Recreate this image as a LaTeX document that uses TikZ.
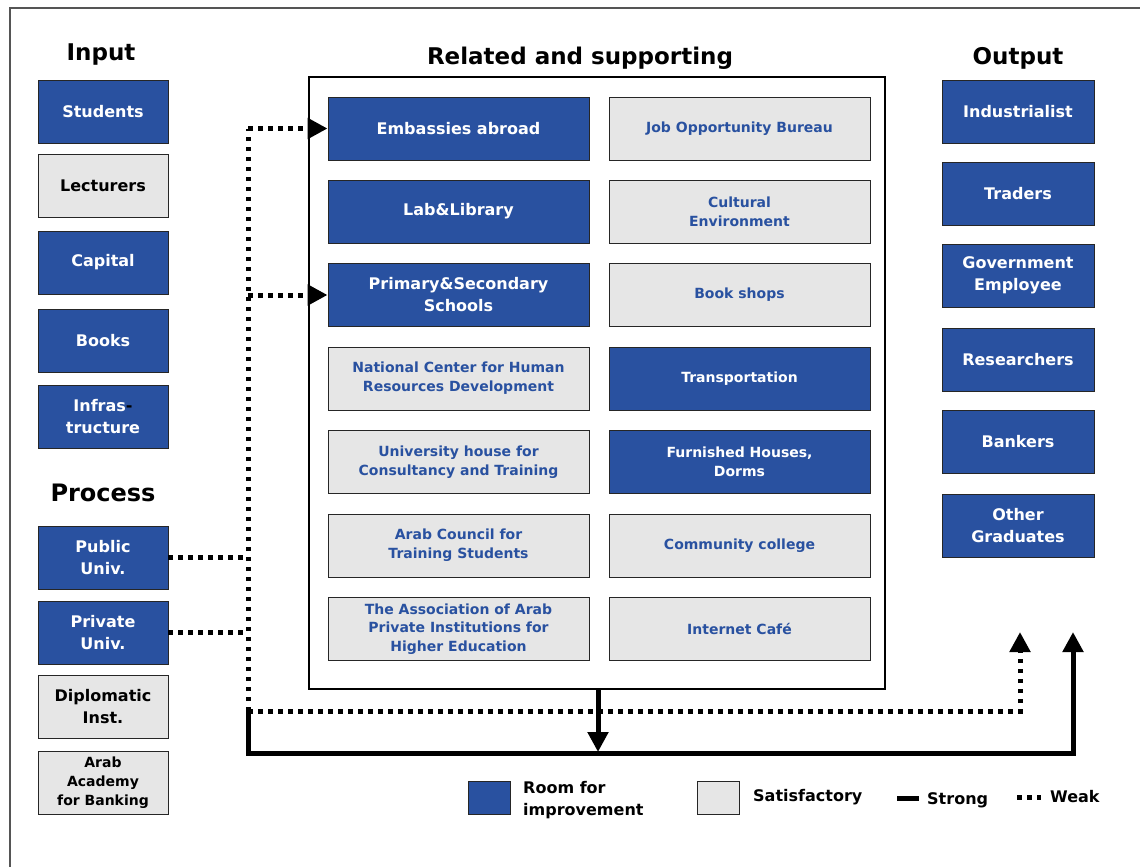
\documentclass[tikz,border=0pt]{standalone}
\usepackage{fontspec}
\setmainfont{DejaVu Sans}
\usetikzlibrary{arrows.meta}

\definecolor{roomblue}{RGB}{41,81,160}
\definecolor{satgray}{RGB}{230,230,230}
\definecolor{framegray}{RGB}{85,85,85}

\tikzset{
  box/.style={draw=black!85, line width=0.9pt, minimum height=63pt,
              inner sep=2pt, align=center, font=\bfseries\fontsize{16}{22}\selectfont},
  fixbox/.style={box, fill=roomblue, text=white},
  okbox/.style={box, fill=satgray, text=black},
  sidebox/.style={minimum width=130pt},
  outbox/.style={minimum width=152pt},
  midbox/.style={minimum width=261pt, font=\bfseries\fontsize{14}{19}\selectfont},
  midfix/.style={box, midbox, fill=roomblue, text=white},
  midok/.style={box, midbox, fill=satgray, text=roomblue},
  bigfont/.style={font=\bfseries\fontsize{16}{22}\selectfont},
  heading/.style={font=\bfseries\fontsize{23}{27}\selectfont, inner sep=0pt},
  legendtext/.style={font=\bfseries\fontsize{16}{22}\selectfont, align=left, inner sep=0pt, anchor=west},
  weak/.style={line width=5pt, dash pattern=on 4.5pt off 5.5pt},
  strong/.style={line width=5pt},
  arrowtip/.style={-{Triangle[length=20pt,width=20pt]}},
}

\begin{document}
\begin{tikzpicture}[x=1pt, y=-1pt]
\useasboundingbox (0,0) rectangle (1140,867);

% outer frame
\draw[framegray, line width=1.5pt] (10,867) -- (10,8) -- (1140,8);

% headings
\node[heading] (hin) at (101,55) {Input};
\node[heading] (hrel) at (580,58) {Related and supporting};
\node[heading] (hout) at (1018,58) {Output};
\node[heading, font=\bfseries\fontsize{24}{28}\selectfont] (hproc) at (103,493) {Process};

% input column
\node[fixbox, sidebox] (students) at (103,111.5) {Students};
\node[okbox, sidebox] (lecturers) at (103,185.5) {Lecturers};
\node[fixbox, sidebox] (capital) at (103,262.5) {Capital};
\node[fixbox, sidebox] (books) at (103,340.5) {Books};
\node[fixbox, sidebox] (infra) at (103,416.5) {Infras\textcolor{black}{-}\\tructure};

% process column
\node[fixbox, sidebox] (public) at (103,557.5) {Public\\Univ.};
\node[fixbox, sidebox] (private) at (103,632.5) {Private\\Univ.};
\node[okbox, sidebox] (diplo) at (103,706.5) {Diplomatic\\Inst.};
\node[okbox, sidebox, font=\bfseries\fontsize{14}{19}\selectfont] (arabacad) at (103,782.5) {Arab\\Academy\\for Banking};

% related and supporting container
\node[draw=black, line width=1.3pt, minimum width=576pt, minimum height=612pt, inner sep=0pt] (rel) at (597,383) {};

\node[midfix, bigfont] (embassies) at (458.5,128.5) {Embassies abroad};
\node[midok] (jobs) at (739.5,128.5) {Job Opportunity Bureau};
\node[midfix, bigfont] (lab) at (458.5,211.5) {Lab\&Library};
\node[midok] (cultural) at (739.5,211.5) {Cultural\\Environment};
\node[midfix, bigfont] (schools) at (458.5,295) {Primary\&Secondary\\Schools};
\node[midok] (bookshops) at (739.5,295) {Book shops};
\node[midok] (national) at (458.5,378.5) {National Center for Human\\Resources Development};
\node[midfix] (transport) at (739.5,378.5) {Transportation};
\node[midok] (univhouse) at (458.5,462) {University house for\\Consultancy and Training};
\node[midfix] (dorms) at (739.5,462) {Furnished Houses,\\Dorms};
\node[midok] (council) at (458.5,545.5) {Arab Council for\\Training Students};
\node[midok] (community) at (739.5,545.5) {Community college};
\node[midok, font=\bfseries\fontsize{14}{18.5}\selectfont] (association) at (458.5,629) {The Association of Arab\\Private Institutions for\\Higher Education};
\node[midok] (internet) at (739.5,629) {Internet Café};

% output column
\node[fixbox, outbox] (industrialist) at (1018,111.5) {Industrialist};
\node[fixbox, outbox] (traders) at (1018,193.5) {Traders};
\node[fixbox, outbox] (govemp) at (1018,275.5) {Government\\Employee};
\node[fixbox, outbox] (researchers) at (1018,359.5) {Researchers};
\node[fixbox, outbox] (bankers) at (1018,441.5) {Bankers};
\node[fixbox, outbox] (othergrad) at (1018,525.5) {Other\\Graduates};

% junction points of the connectors
\coordinate (wtop) at (248,128.5);
\coordinate (wmid) at (248,295);
\coordinate (wpub) at (248,557.5);
\coordinate (wpriv) at (248,632.5);
\coordinate (wbot) at (248,711);
\coordinate (wright) at (1020,711);
\coordinate (wend) at (1020,632);
\coordinate (sbot) at (248,753);
\coordinate (sright) at (1073,753);
\coordinate (send) at (1073,632);
\coordinate (sdown) at (598,752);

% weak links
\draw[weak] (public.east) -- (wpub);
\draw[weak] (private.east) -- (wpriv);
\draw[weak] (wbot) -- (wtop);
\draw[weak, arrowtip] (wtop) -- (embassies.west);
\draw[weak, arrowtip] (wmid) -- (schools.west);
\draw[weak, arrowtip] (wbot) -- (wright) -- (wend);

% strong links
\draw[strong, arrowtip] (rel.south -| sdown) -- (sdown);
\draw[strong, arrowtip] (wbot) -- (sbot) -- (sright) -- (send);

% legend
\node[fixbox, minimum width=42pt, minimum height=33pt, inner sep=0pt] (legfix) at (489,797.5) {};
\node[legendtext] (legfixtext) at (523,800) {Room for\\improvement};
\node[okbox, minimum width=42pt, minimum height=33pt, inner sep=0pt] (legok) at (718,797.5) {};
\node[legendtext] (legoktext) at (753,797) {Satisfactory};
\coordinate (lsa) at (897,798);
\coordinate (lsb) at (919,798);
\draw[strong] (lsa) -- (lsb);
\node[legendtext] (legstrong) at (927,800) {Strong};
\coordinate (lwa) at (1017,797);
\coordinate (lwb) at (1041,797);
\draw[weak] (lwa) -- (lwb);
\node[legendtext] (legweak) at (1050,797) {Weak};
\end{tikzpicture}
\end{document}
